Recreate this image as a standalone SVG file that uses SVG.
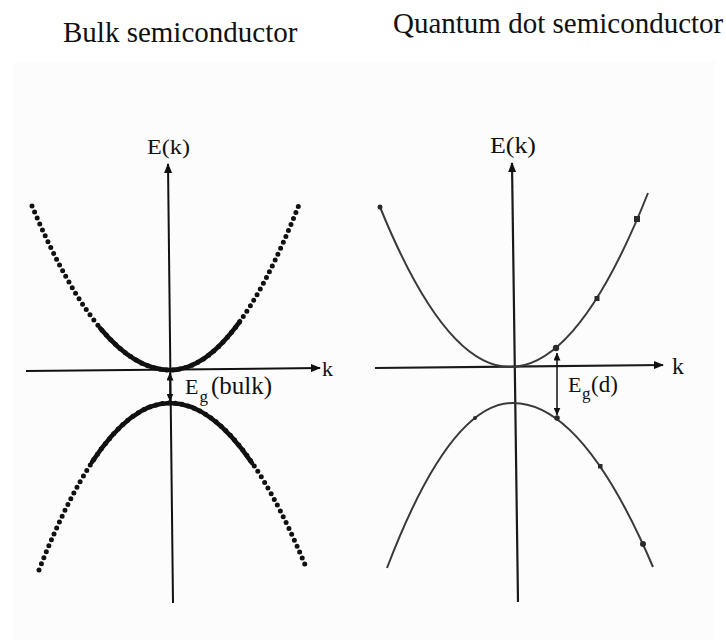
<svg xmlns="http://www.w3.org/2000/svg" width="726" height="643" viewBox="0 0 726 643">
  <style>
    .title { font-family: "Liberation Serif", "Times New Roman", serif; font-size: 29px; fill: #111; }
    .lbl { font-family: "Liberation Serif", "Times New Roman", serif; fill: #111; }
    .axis { stroke: #111; stroke-width: 2; fill: none; }
    .axis2 { stroke: #1a1a1a; stroke-width: 2.2; fill: none; }
    .dots { stroke: #111; stroke-width: 5; stroke-linecap: round; stroke-dasharray: 0 6.5; fill: none; }
    .dense { stroke: #111; stroke-width: 4.6; stroke-linecap: round; fill: none; }
    .band2 { stroke: #3a3a3a; stroke-width: 2; fill: none; }
    .gap { stroke: #111; stroke-width: 1.5; fill: none; }
    .mark { fill: #2a2a2a; }
  </style>
  <defs>
    <marker id="axhead" viewBox="0 0 10 8" refX="9" refY="4" markerWidth="10" markerHeight="8" orient="auto" markerUnits="userSpaceOnUse">
      <path d="M0,0 L10,4 L0,8 z" fill="#111"/>
    </marker>
    <marker id="gaphead" viewBox="0 0 8 7" refX="7.5" refY="3.5" markerWidth="8" markerHeight="7" orient="auto-start-reverse" markerUnits="userSpaceOnUse">
      <path d="M0,0 L8,3.5 L0,7 z" fill="#111"/>
    </marker>
  </defs>

  <rect x="14" y="62" width="702" height="578" fill="#fcfcfc"/>

  <g id="title-bulk">
    <text class="title" x="63" y="42">Bulk semiconductor</text>
  </g>
  <g id="title-quantum-dot">
    <text class="title" x="393" y="33">Quantum dot semiconductor</text>
  </g>

  <g id="connectors">
    <!-- bulk axes -->
    <line class="axis" x1="173" y1="603" x2="168" y2="164" marker-end="url(#axhead)"/>
    <line class="axis" x1="26" y1="371" x2="320" y2="368" marker-end="url(#axhead)"/>
    <!-- bulk gap arrow -->
    <line class="gap" x1="170" y1="373" x2="170" y2="401" marker-start="url(#gaphead)" marker-end="url(#gaphead)"/>
    <!-- quantum dot axes -->
    <line class="axis2" x1="518" y1="602" x2="512" y2="163" marker-end="url(#axhead)"/>
    <line class="axis2" x1="375" y1="368" x2="663" y2="365" marker-end="url(#axhead)"/>
    <!-- quantum dot gap arrow -->
    <line class="gap" x1="557" y1="353" x2="557" y2="415" marker-start="url(#gaphead)" marker-end="url(#gaphead)"/>
  </g>

  <g id="bulk-conduction-band">
    <path class="dots" d="M32,206 Q101,370 170,370 Q235,370 300,202"/>
    <path class="dense" d="M100,328 Q135,370 170,370 Q205,370 240,321.3"/>
  </g>
  <g id="bulk-valence-band">
    <path class="dots" d="M39,570 Q104.5,403 170,403 Q238,403 306,567"/>
    <path class="dense" d="M92,462 Q131,403 170,403 Q211,403 252,463"/>
  </g>
  <g id="bulk-labels">
    <text class="lbl" x="147" y="154" font-size="22" textLength="43" lengthAdjust="spacingAndGlyphs">E(k)</text>
    <text class="lbl" x="322" y="376" font-size="22">k</text>
    <text class="lbl" x="185" y="394" font-size="22">E</text>
    <text class="lbl" x="199.5" y="402" font-size="17">g</text>
    <text class="lbl" x="211" y="394" font-size="25">(bulk)</text>
  </g>

  <g id="qd-conduction-band">
    <path class="band2" d="M380,207 Q445,367 510,367 Q579,367 648,193"/>
    <circle class="mark" cx="380" cy="207" r="2.5"/>
    <rect class="mark" x="634" y="216" width="6" height="6"/>
    <rect class="mark" x="594.5" y="296" width="5" height="5"/>
    <circle class="mark" cx="556" cy="348" r="3.2"/>
  </g>
  <g id="qd-valence-band">
    <path class="band2" d="M387,568 Q450,403 513,403 Q583,403 653,567"/>
    <circle class="mark" cx="557" cy="418" r="2.8"/>
    <circle class="mark" cx="475" cy="418" r="2"/>
    <rect class="mark" x="598" y="464" width="4.5" height="4.5"/>
    <circle class="mark" cx="643" cy="544" r="3"/>
  </g>
  <g id="qd-labels">
    <text class="lbl" x="490" y="153" font-size="24" textLength="46" lengthAdjust="spacingAndGlyphs">E(k)</text>
    <text class="lbl" x="672" y="374" font-size="24">k</text>
    <text class="lbl" x="568" y="392" font-size="22">E</text>
    <text class="lbl" x="582" y="399" font-size="17">g</text>
    <text class="lbl" x="591" y="392" font-size="23">(d)</text>
  </g>
</svg>
